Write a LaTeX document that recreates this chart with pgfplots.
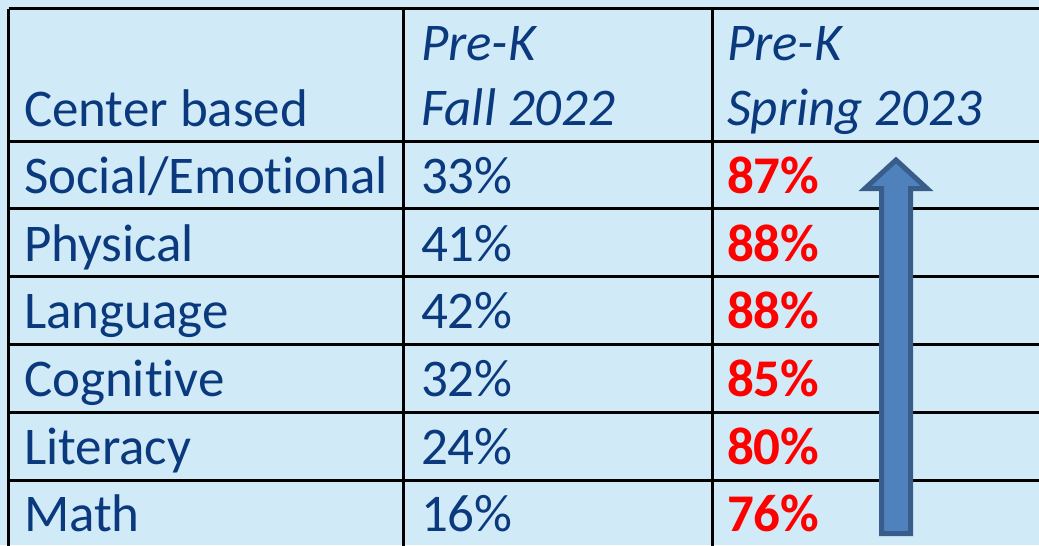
\documentclass[border=0pt]{standalone}
\usepackage{pgfplots}
\pgfplotsset{compat=1.18}
\usepackage{pgfplotstable}
\usepackage{fontspec}
\setmainfont{Carlito}[Ligatures={NoCommon}]
\definecolor{bgblue}{RGB}{208,234,248}
\definecolor{txtblue}{RGB}{10,58,125}
\definecolor{arrowfill}{RGB}{79,129,189}
\definecolor{arrowedge}{RGB}{56,93,138}
\pgfplotstableread{
base fall spring
193 33 87
261 41 88
328 42 88
396 32 85
464 24 80
531 16 76
}\scores
\begin{document}
\begin{tikzpicture}
\begin{axis}[
  width=1039bp, height=545bp, scale only axis,
  xmin=0, xmax=1039, ymin=0, ymax=545, y dir=reverse,
  axis lines=none, ticks=none, clip=true,
  axis background/.style={fill=bgblue},
  /pgf/number format/assume math mode=true,
  nodes near coords align={anchor=base west},
  every node near coord/.append style={anchor=base west, inner sep=0pt, outer sep=0pt},
]
% grid lines
\addplot[black, line width=3bp] coordinates {(8.7,8.7) (1100,8.7)};
\addplot[black, line width=3bp] coordinates {(8.7,8.7) (8.7,600)};
\addplot[black, line width=3bp] coordinates {(403.3,8.7) (403.3,600)};
\addplot[black, line width=3bp] coordinates {(712.3,8.7) (712.3,600)};
\addplot[black, line width=3bp] coordinates {(8.7,141) (1100,141)};
\addplot[black, line width=3bp] coordinates {(8.7,208.8) (1100,208.8)};
\addplot[black, line width=3bp] coordinates {(8.7,276.5) (1100,276.5)};
\addplot[black, line width=3bp] coordinates {(8.7,344.2) (1100,344.2)};
\addplot[black, line width=3bp] coordinates {(8.7,412) (1100,412)};
\addplot[black, line width=3bp] coordinates {(8.7,480) (1100,480)};
% headers
\addplot[draw=none, mark=none, point meta=explicit symbolic,
  nodes near coords, nodes near coords style={font=\fontsize{53bp}{60bp}\selectfont, text=txtblue}]
  coordinates {(24,126) [Center based]};
\addplot[draw=none, mark=none, point meta=explicit symbolic,
  nodes near coords, nodes near coords style={font=\fontsize{53bp}{60bp}\selectfont\itshape, text=txtblue}]
  coordinates {(421,61) [Pre-K] (421,125) [Fall 2022] (727,61) [Pre-K] (727,125) [Spring 2023]};
% row labels
\addplot[draw=none, mark=none, point meta=explicit symbolic,
  nodes near coords, nodes near coords style={font=\fontsize{53bp}{60bp}\selectfont, text=txtblue}]
  coordinates {(24,193) [Social/Emotional] (24,261) [Physical] (24,328) [Language]
               (24,396) [Cognitive] (24,464) [Literacy] (24,531) [Math]};
% values
\addplot[draw=none, mark=none, point meta=explicit,
  nodes near coords={\pgfmathprintnumber{\pgfplotspointmeta}\%},
  nodes near coords style={font=\fontsize{53bp}{60bp}\selectfont, text=txtblue}]
  table[x expr=421, y=base, meta=fall] {\scores};
\addplot[draw=none, mark=none, point meta=explicit,
  nodes near coords={\pgfmathprintnumber{\pgfplotspointmeta}\%},
  nodes near coords style={font=\fontsize{53bp}{60bp}\selectfont\bfseries, text=red}]
  table[x expr=727, y=base, meta=spring] {\scores};
% arrow
\addplot[fill=arrowfill, draw=arrowedge, line width=5bp, line join=miter, miter limit=10]
  coordinates {(881.5,533.5) (881.5,188.5) (865,188.5) (896,160) (927,188.5) (910.5,188.5) (910.5,533.5)} -- cycle;
\end{axis}
\pgfresetboundingbox
\path (current axis.south west) rectangle (current axis.north east);
\end{tikzpicture}
\end{document}
